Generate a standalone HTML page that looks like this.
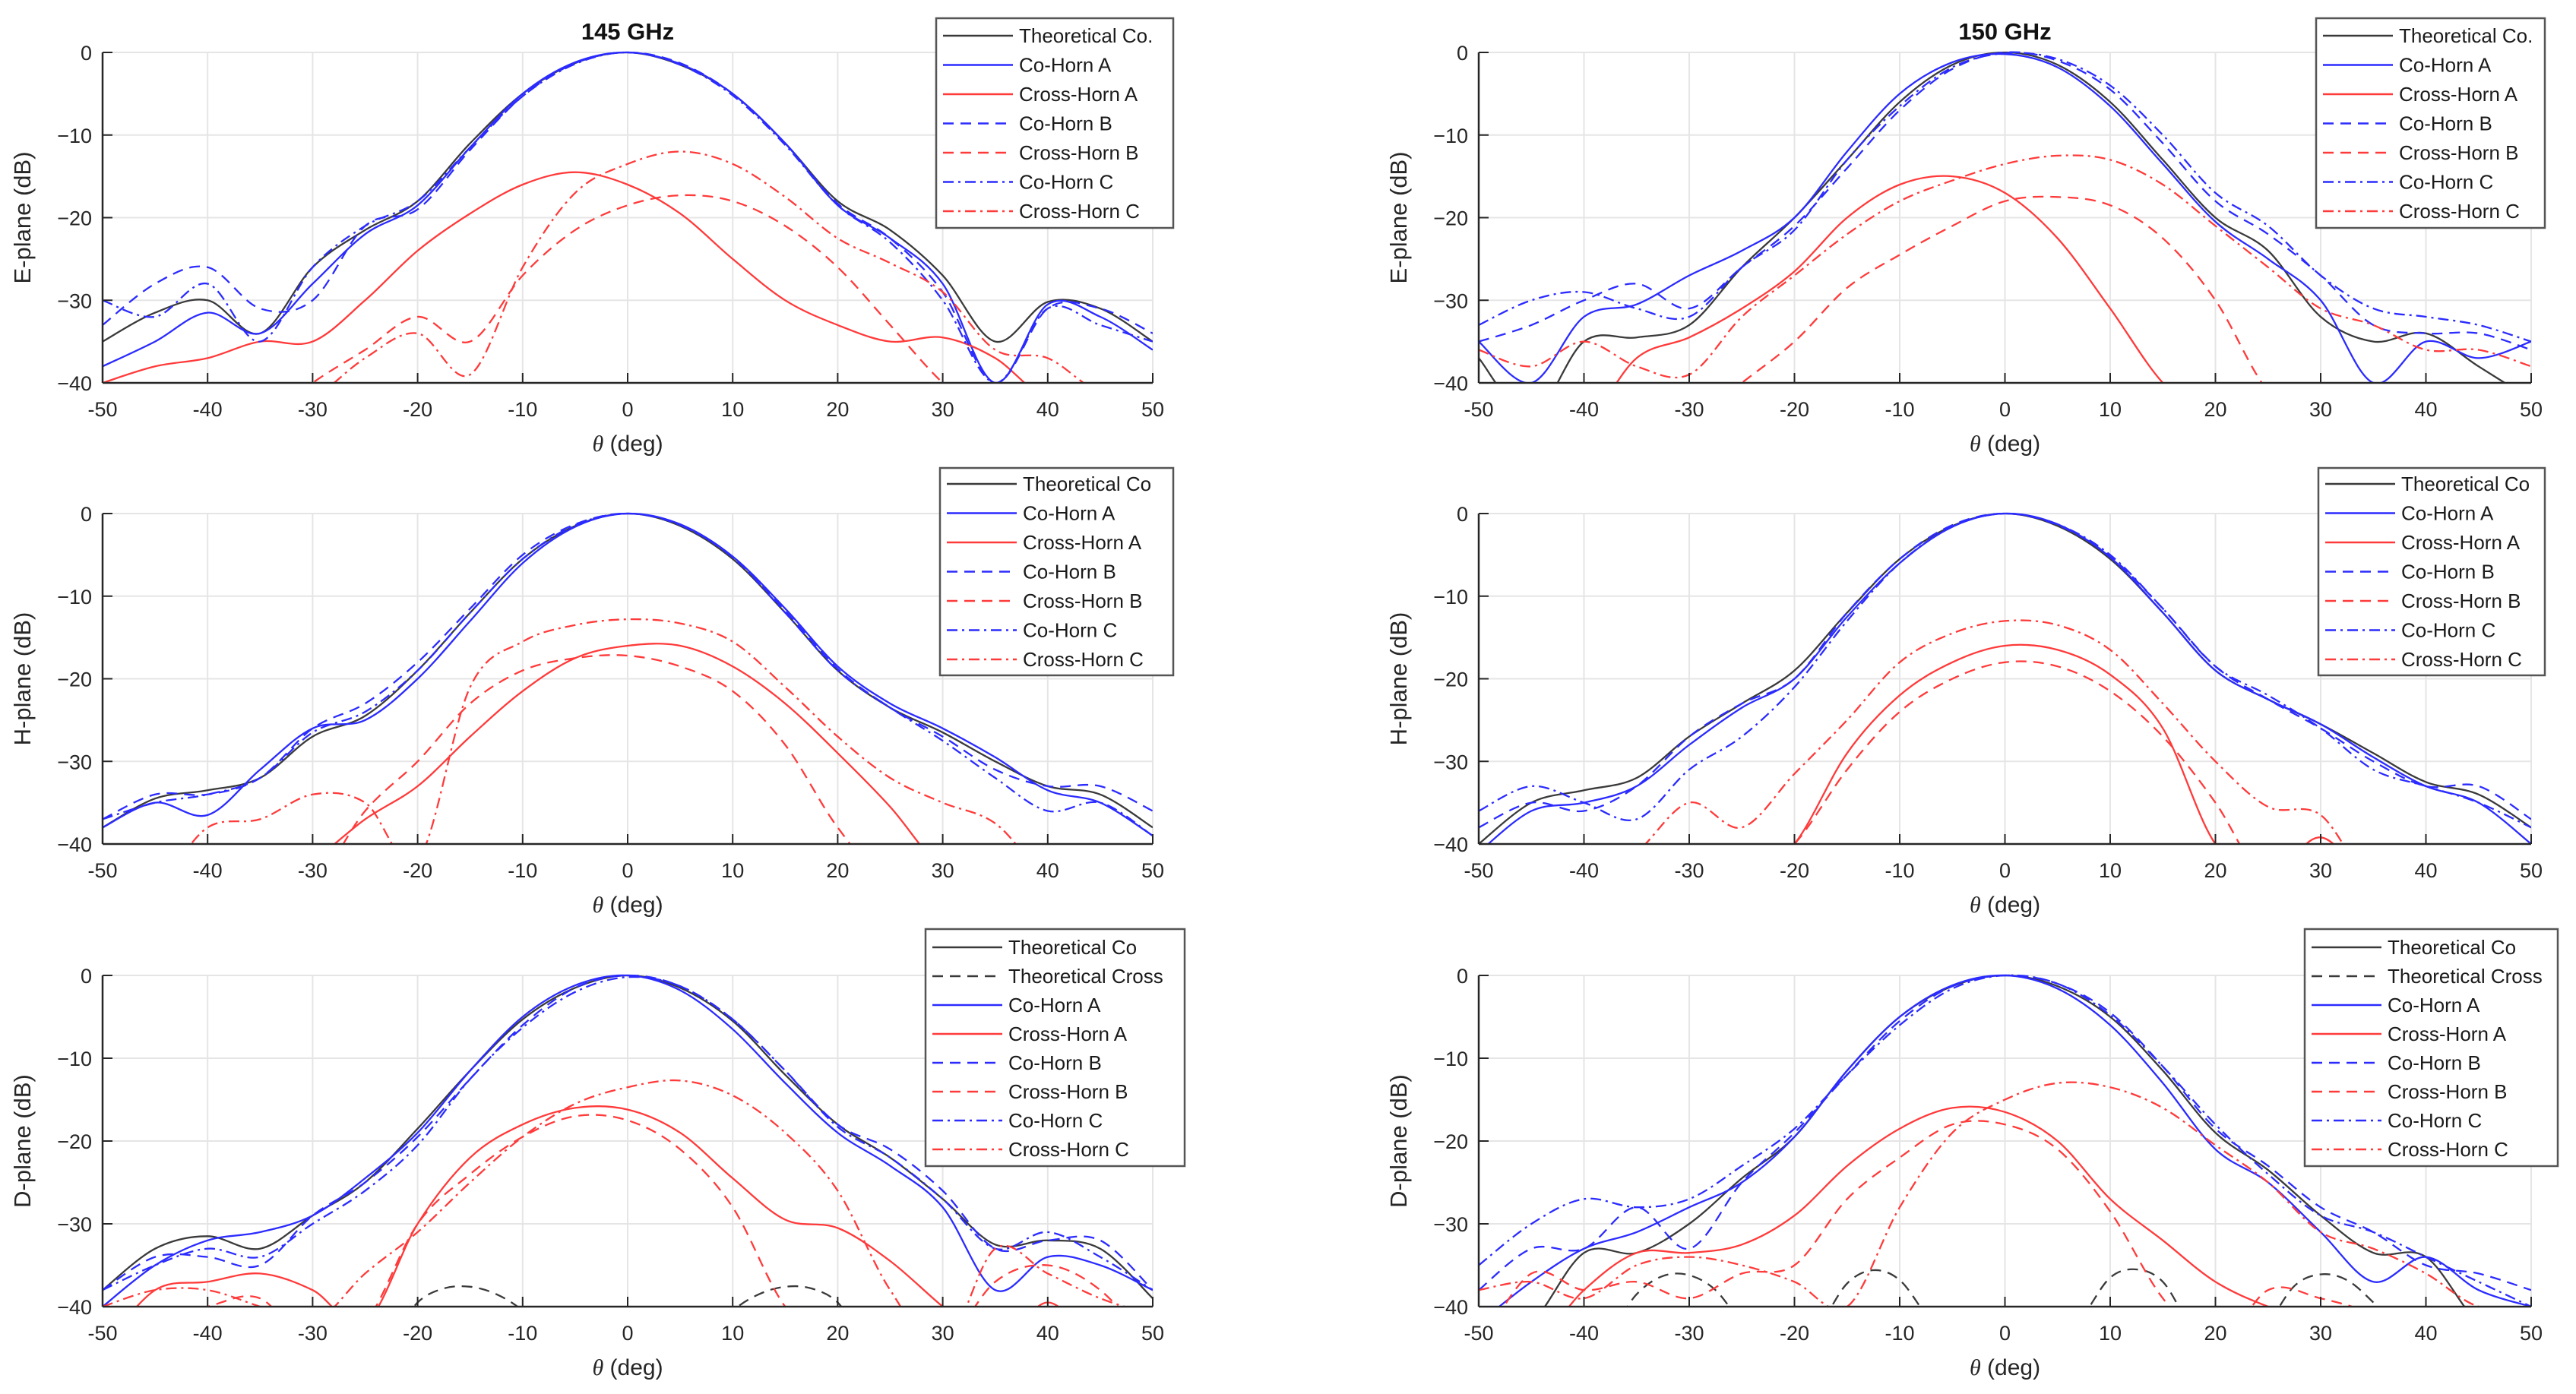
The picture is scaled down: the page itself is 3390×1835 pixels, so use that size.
<!DOCTYPE html>
<html><head><meta charset="utf-8"><style>
html,body{margin:0;padding:0;background:#fff;width:3390px;height:1835px;overflow:hidden;}
svg{display:block;font-family:"Liberation Sans",sans-serif;}
</style></head><body>
<svg id="fig" xmlns="http://www.w3.org/2000/svg" width="3390" height="1835" viewBox="0 0 3390 1835" overflow="hidden"></svg>
<script>
const ANG = [-50,-45,-40,-35,-30,-25,-20,-15,-10,-5,0,5,10,15,20,25,30,35,40,45,50];
const ANG_FINE = [-50,-47.5,-45,-42.5,-40,-37.5,-35,-32.5,-30,-27.5,-25,-22.5,-20,-17.5,-15,-12.5,-10,-7.5,-5,-2.5,0,2.5,5,7.5,10,12.5,15,17.5,20,22.5,25,27.5,30,32.5,35,37.5,40,42.5,45,47.5,50];
const X_TICKS = [-50,-40,-30,-20,-10,0,10,20,30,40,50];
const Y_TICKS = [0,-10,-20,-30,-40];

// E-plane 145 GHz
const E145_th  = [-35,-31.5,-30,-34,-26,-21.5,-18,-11,-5,-1.3,0,-1.5,-5,-11,-18,-21.5,-27,-35,-30.2,-31,-35];
const E145_coA = [-38,-35,-31.5,-34,-28,-22,-18.5,-11.5,-5,-1.2,0,-1.4,-5,-11,-18.5,-22.5,-28,-40,-30.5,-32,-36];
const E145_crA = [-40,-38,-37,-35,-35,-30,-24,-19.5,-16,-14.5,-16,-19.5,-25,-30,-33,-35,-34.5,-37,-42,-42,-42];
const E145_coB = [-33,-28,-26,-31,-30,-21,-19,-11.8,-5.3,-1.3,0,-1.3,-5,-11,-18.3,-22.5,-29,-40,-31,-31,-34];
const E145_crB = [-45,-45,-45,-45,-40,-36,-32,-35,-27,-21.5,-18.5,-17.3,-18,-21,-26,-33,-40,-45,-45,-45,-45];
const E145_coC = [-30,-32,-28,-35,-26,-21,-18,-11.5,-5.3,-1.4,0,-1.5,-5.2,-11.2,-18.5,-23,-30,-40,-31,-33,-35];
const E145_crC = [-45,-45,-45,-45,-42,-37,-34,-39,-26,-17,-13.5,-12,-13.5,-17.5,-22.5,-25.5,-29,-36,-37,-41,-40];
// E-plane 150 GHz
const E150_th  = [-37,-44,-35,-34.5,-33,-26,-20,-13,-6,-1.5,0,-1.5,-6,-13,-20,-24,-32,-35,-34,-38,-42];
const E150_coA = [-35,-40,-32,-30.5,-27,-24,-20,-12,-5,-1.2,-0.2,-1.8,-6.5,-13.5,-20.5,-25,-30,-40,-35,-37,-35];
const E150_crA = [-45,-45,-45,-37,-34.5,-31,-26.5,-20,-16,-15,-17,-22.5,-31,-40,-45,-45,-45,-45,-45,-45,-45];
const E150_coB = [-35,-33,-30,-28,-31,-26,-21,-14,-7,-2,0,-1,-4.5,-11,-18,-22,-27,-33,-34,-34,-36];
const E150_crB = [-45,-45,-45,-45,-45,-40,-35,-28.5,-24.5,-21,-18,-17.5,-18.5,-22.5,-30,-41,-45,-45,-45,-45,-45];
const E150_coC = [-33,-30,-29,-31,-32,-26,-21.5,-13,-6.5,-1.8,-0.1,-0.8,-4,-10,-17,-21,-27,-31,-32,-33,-35];
const E150_crC = [-36,-38,-35,-38,-39,-32,-27,-22,-18,-15.5,-13.5,-12.5,-13,-16,-21,-26,-31,-33,-36,-36,-38];
// H-plane 145 GHz
const H145_th  = [-38,-34.5,-33.5,-32,-27,-24.5,-19,-12,-5.5,-1.5,0,-1.5,-5.5,-12,-19,-23.5,-26.5,-30,-33,-34,-38];
const H145_coA = [-38,-35,-36.5,-31,-26,-25,-20,-13,-6,-1.6,0,-1.3,-5.2,-11.5,-18.5,-23,-26,-29.5,-33.5,-35,-39];
const H145_crA = [-45,-45,-45,-45,-42,-37,-33,-27,-21.5,-17.5,-16,-16,-18.5,-23,-29,-35.5,-43,-45,-45,-45,-45];
const H145_coB = [-37,-34,-34,-32,-26,-23,-18,-11.5,-5,-1.3,0,-1.4,-5.3,-11.8,-18.8,-23.5,-27,-31,-33,-33,-36];
const H145_crB = [-45,-45,-45,-45,-45,-36,-30,-23,-19,-17.5,-17.2,-18.5,-21.5,-28,-38,-45,-45,-45,-45,-45,-45];
const H145_coC = [-37,-35,-34,-32,-26.5,-24,-19,-12,-5.5,-1.4,0,-1.4,-5.3,-12,-19,-23.5,-27.5,-32,-36,-35,-39];
const H145_crC = [-45,-45,-38,-37,-34,-35,-42,-21,-15.5,-13.5,-12.8,-13.3,-15.5,-21,-27,-32,-35,-37.5,-44,-45,-45];
// H-plane 150 GHz
const H150_th  = [-40,-35,-33.5,-32,-27,-23,-19,-12,-5.5,-1.5,0,-1.5,-5.5,-12,-19,-22.5,-25.5,-29,-32.5,-34,-38];
const H150_coA = [-41,-36,-35,-33,-28,-23.5,-20,-12.5,-6,-1.6,0,-1.3,-5.3,-12,-19,-22.5,-25.5,-29.5,-33,-35,-40];
const H150_crA = [-45,-45,-45,-45,-45,-45,-40,-29,-22,-18,-16,-16.5,-19.5,-26,-40,-44,-39.2,-45,-45,-45,-45];
const H150_coB = [-38,-35,-36,-33,-27,-23,-20,-12,-5.5,-1.4,0,-1.4,-5.2,-11.5,-18.5,-22.5,-26,-30,-33,-33,-37];
const H150_crB = [-45,-45,-45,-45,-45,-45,-40,-31,-24,-20,-18,-18.5,-21.5,-27,-35,-45,-45,-45,-45,-45,-45];
const H150_coC = [-36,-33,-35,-37,-31,-27,-21,-13,-6,-1.6,0,-1.3,-5,-11.5,-18.5,-22,-26,-31,-33,-35,-38];
const H150_crC = [-45,-45,-45,-41,-35,-38,-31.5,-25,-18,-14.5,-13,-13.5,-16.5,-23,-30,-35.5,-36.5,-45,-45,-45,-45];
// D-plane 145 GHz
const D145_th  = [-38,-33,-31.5,-33,-29,-25,-18.5,-11.5,-5.3,-1.5,0,-1.5,-5.5,-12,-18,-22,-27,-32.5,-32,-33,-39];
const D145_thX = [-45,-45,-45,-45,-45,-45,-45,-45,-45,-45,-45,-44,-39.5,-37.8,-37.6,-38.5,-40.5,-44,-45,-45,-45,-45,-45,-44,-40.5,-38.5,-37.6,-37.8,-39.5,-44,-45,-45,-45,-45,-45,-45,-45,-45,-45,-45,-45];
const D145_coA = [-40,-35,-32,-31,-29,-24.5,-19,-11.5,-5,-1.2,0,-1.8,-6.5,-13,-19,-23,-28,-38,-34,-35,-38];
const D145_crA = [-45,-38,-37,-36,-38,-42,-30,-22,-18,-16,-16.2,-19,-24.5,-29.5,-30.5,-34.5,-40,-45,-39.5,-45,-45];
const D145_coB = [-38,-34,-34,-35,-29,-25,-19.5,-12.5,-6,-1.5,0,-1.3,-5.3,-11.5,-18,-21,-26,-33,-32,-32,-38];
const D145_crB = [-45,-42,-40,-39,-45,-42,-30,-24,-19.5,-17,-17.5,-21,-28,-40,-45,-45,-45,-37,-35,-38,-45];
const D145_coC = [-38,-35,-33,-34,-30,-26,-20.5,-12.5,-6.3,-2,-0.2,-1.3,-5.3,-11.5,-18.3,-22,-27,-33,-31,-34,-38];
const D145_crC = [-40,-38,-38,-40,-42,-36,-31,-25,-19.5,-15.5,-13.5,-12.7,-14.5,-19,-26,-38,-45,-33,-36,-39,-41];
// D-plane 150 GHz
const D150_th  = [-45,-42,-33.5,-33.5,-30,-24.5,-19.5,-11.5,-5,-1.3,0,-1.3,-5,-11.5,-19,-23.5,-29,-33.5,-34,-42,-45];
const D150_thX = [-45,-45,-45,-45,-45,-43,-38.5,-36.3,-36.2,-38,-42,-45,-45,-42,-37.2,-35.6,-36.8,-41,-45,-45,-45,-45,-45,-41,-36.5,-35.5,-37,-42,-45,-45,-42,-37.5,-36.1,-36.8,-39.5,-43,-45,-45,-45,-45,-45];
const D150_coA = [-42,-37,-33,-31,-28,-25,-19.5,-11.5,-5,-1.2,0,-1.6,-6,-13,-21,-25,-31,-37,-34,-38,-40];
const D150_crA = [-45,-45,-38,-33.5,-33.5,-32.5,-29,-23,-18.5,-16,-16.5,-20,-27,-32,-37,-40,-42,-42,-45,-45,-45];
const D150_coB = [-38,-33,-33,-28,-33,-25,-19,-12,-5.5,-1.3,0,-1,-4.5,-11,-18.5,-23,-28,-31,-35,-36,-38];
const D150_crB = [-45,-36,-38,-37,-39,-36,-35,-27,-22,-18,-18,-21,-28.5,-39,-45,-38,-39,-41,-45,-45,-45];
const D150_coC = [-35,-30,-27,-28,-27,-23,-18.5,-12,-6,-1.6,0,-1,-4.8,-11,-18,-24,-29,-31,-34,-37,-40];
const D150_crC = [-38,-37,-39,-35,-34,-35,-37,-40,-28,-19,-15,-13,-13.5,-16,-20.5,-25,-31,-33,-36,-40,-40];

const NS = "http://www.w3.org/2000/svg";
const svg = document.getElementById('fig');
function mk(tag, attrs, parent){ const e=document.createElementNS(NS,tag); for(const k in attrs) e.setAttribute(k,attrs[k]); (parent||svg).appendChild(e); return e; }

const BLUE="#2b2bff", RED="#ff3a3a", BLACK="#3a3a3a";
const DASH="14,9", DOT="14,6,3,6";
const STY = {
  th:{c:BLACK,d:null,label:"Theoretical Co"}, thX:{c:BLACK,d:DASH,label:"Theoretical Cross"},
  coA:{c:BLUE,d:null,label:"Co-Horn A"}, crA:{c:RED,d:null,label:"Cross-Horn A"},
  coB:{c:BLUE,d:DASH,label:"Co-Horn B"}, crB:{c:RED,d:DASH,label:"Cross-Horn B"},
  coC:{c:BLUE,d:DOT,label:"Co-Horn C"}, crC:{c:RED,d:DOT,label:"Cross-Horn C"}
};

const panels = [
  {id:"e145",L:135,R:1517,T:69,B:504,ylab:"E-plane (dB)",title:"145 GHz",th:"Theoretical Co.",
   s:{th:E145_th,coA:E145_coA,crA:E145_crA,coB:E145_coB,crB:E145_crB,coC:E145_coC,crC:E145_crC},
   leg:{x:1232,y:24,w:312,h:276,r0:47,dy:38.5}},
  {id:"e150",L:1946,R:3331,T:69,B:504,ylab:"E-plane (dB)",title:"150 GHz",th:"Theoretical Co.",
   s:{th:E150_th,coA:E150_coA,crA:E150_crA,coB:E150_coB,crB:E150_crB,coC:E150_coC,crC:E150_crC},
   leg:{x:3048,y:24,w:301,h:276,r0:47,dy:38.5}},
  {id:"h145",L:135,R:1517,T:676,B:1111,ylab:"H-plane (dB)",th:"Theoretical Co",
   s:{th:H145_th,coA:H145_coA,crA:H145_crA,coB:H145_coB,crB:H145_crB,coC:H145_coC,crC:H145_crC},
   leg:{x:1237,y:616,w:307,h:273,r0:637,dy:38.5}},
  {id:"h150",L:1946,R:3331,T:676,B:1111,ylab:"H-plane (dB)",th:"Theoretical Co",
   s:{th:H150_th,coA:H150_coA,crA:H150_crA,coB:H150_coB,crB:H150_crB,coC:H150_coC,crC:H150_crC},
   leg:{x:3051,y:616,w:298,h:273,r0:637,dy:38.5}},
  {id:"d145",L:135,R:1517,T:1284,B:1720,ylab:"D-plane (dB)",th:"Theoretical Co",
   s:{th:D145_th,thX:D145_thX,coA:D145_coA,crA:D145_crA,coB:D145_coB,crB:D145_crB,coC:D145_coC,crC:D145_crC},
   leg:{x:1218,y:1223,w:341,h:312,r0:1247,dy:38}},
  {id:"d150",L:1946,R:3331,T:1284,B:1720,ylab:"D-plane (dB)",th:"Theoretical Co",
   s:{th:D150_th,thX:D150_thX,coA:D150_coA,crA:D150_crA,coB:D150_coB,crB:D150_crB,coC:D150_coC,crC:D150_crC},
   leg:{x:3033,y:1223,w:333,h:312,r0:1247,dy:38}}
];

function smoothPath(pts){
  let d="M"+pts[0][0].toFixed(1)+","+pts[0][1].toFixed(1);
  for(let i=0;i<pts.length-1;i++){
    const p0=pts[Math.max(0,i-1)],p1=pts[i],p2=pts[i+1],p3=pts[Math.min(pts.length-1,i+2)];
    const c1x=p1[0]+(p2[0]-p0[0])/6, c1y=p1[1]+(p2[1]-p0[1])/6;
    const c2x=p2[0]-(p3[0]-p1[0])/6, c2y=p2[1]-(p3[1]-p1[1])/6;
    d+=" C"+c1x.toFixed(1)+","+c1y.toFixed(1)+" "+c2x.toFixed(1)+","+c2y.toFixed(1)+" "+p2[0].toFixed(1)+","+p2[1].toFixed(1);
  }
  return d;
}

panels.forEach(p=>{
  const xs=v=>p.L+(v+50)/100*(p.R-p.L);
  const ys=v=>p.T+(-v)/40*(p.B-p.T);
  const g=mk('g',{});
  
  
  X_TICKS.forEach(t=>{ const l=mk('line',{x1:xs(t),x2:xs(t),y1:p.T,y2:p.B,stroke:"#e5e5e5","stroke-width":2},g);
      });
  Y_TICKS.forEach(t=>{ const l=mk('line',{x1:p.L,x2:p.R,y1:ys(t),y2:ys(t),stroke:"#e5e5e5","stroke-width":2},g);
      });
  const cp=mk('clipPath',{id:"clip-"+p.id},g);
  mk('rect',{x:p.L,y:p.T-2,width:p.R-p.L,height:p.B-p.T+2},cp);
  const sg=mk('g',{"clip-path":"url(#clip-"+p.id+")"},g);
  Object.keys(p.s).forEach(k=>{
    const vals=p.s[k]; const ang = vals.length===ANG_FINE.length?ANG_FINE:ANG;
    const pts=vals.map((v,i)=>[xs(ang[i]),ys(v)]);
    const st=STY[k];
    const a={d:smoothPath(pts),fill:"none",stroke:st.c,"stroke-width":2.3,"stroke-linejoin":"round"};
    if(st.d) a["stroke-dasharray"]=st.d;
    const path=mk('path',a,sg);
    
    
  });
  const ax=mk('line',{x1:p.L,x2:p.R,y1:p.B,y2:p.B,stroke:"#262626","stroke-width":2.5},g);
   
  const ay=mk('line',{x1:p.L,x2:p.L,y1:p.T,y2:p.B,stroke:"#262626","stroke-width":2.5},g);
   
  X_TICKS.forEach(t=>{
    mk('line',{x1:xs(t),x2:xs(t),y1:p.B,y2:p.B-13,stroke:"#262626","stroke-width":2},g);
    const tx=mk('text',{x:xs(t),y:p.B+44,"font-size":27,fill:"#262626","text-anchor":"middle"},g);
    tx.textContent=t;  
  });
  Y_TICKS.forEach(t=>{
    mk('line',{x1:p.L,x2:p.L+13,y1:ys(t),y2:ys(t),stroke:"#262626","stroke-width":2},g);
    const tx=mk('text',{x:p.L-14,y:ys(t)+10,"font-size":27,fill:"#262626","text-anchor":"end"},g);
    tx.textContent=(t===0?"0":"\u2212"+(-t));  
  });
  const xl=mk('text',{x:(p.L+p.R)/2,y:p.B+90,"font-size":30,fill:"#262626","text-anchor":"middle"},g);
  xl.innerHTML='<tspan font-style="italic" font-family="Liberation Serif">θ</tspan> (deg)';
   
  const yx=p.L-95, yc=(p.T+p.B)/2;
  const yl=mk('text',{x:yx,y:yc,"font-size":31,fill:"#262626","text-anchor":"middle",transform:"rotate(-90 "+yx+" "+yc+")"},g);
  yl.textContent=p.ylab;  
  if(p.title){
    const ti=mk('text',{x:(p.L+p.R)/2,y:52,"font-size":31,"font-weight":"bold",fill:"#111","text-anchor":"middle"},g);
    ti.textContent=p.title;  
  }
  const lg=mk('g',{},g);
   
  mk('rect',{x:p.leg.x,y:p.leg.y,width:p.leg.w,height:p.leg.h,fill:"#fff",stroke:"#555","stroke-width":2.5},lg);
  Object.keys(p.s).forEach((k,i)=>{
    const st=STY[k]; const yy=p.leg.r0+i*p.leg.dy;
    const a={x1:p.leg.x+9,x2:p.leg.x+101,y1:yy,y2:yy,stroke:st.c,"stroke-width":2.6};
    if(st.d) a["stroke-dasharray"]=st.d;
    mk('line',a,lg);
    const t=mk('text',{x:p.leg.x+109,y:yy+9,"font-size":26,fill:"#1a1a1a"},lg);
    t.textContent=(k==="th"?p.th:st.label);
     
  });
});
</script>
</body></html>
